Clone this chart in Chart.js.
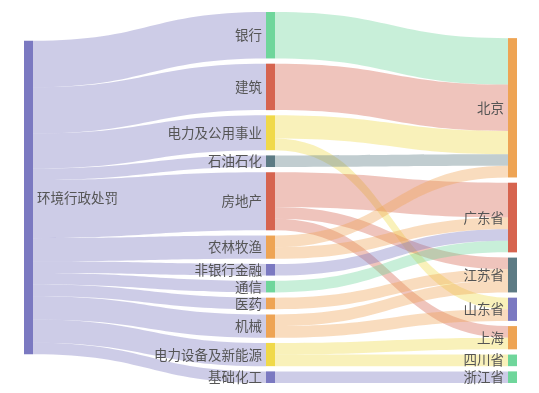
<!DOCTYPE html>
<html>
<head>
<meta charset="utf-8">
<script src="https://cdn.jsdelivr.net/npm/chart.js@4/dist/chart.umd.min.js"></script>
<style>
  html, body { margin: 0; background: #fff; }
</style>
</head>
<body>
<canvas id="sankeyChart" width="539" height="393"></canvas>
<script>
// ── DATA ──
const sourceName = '环境行政处罚';
const industries = ['银行', '建筑', '电力及公用事业', '石油石化', '房地产', '农林牧渔',
  '非银行金融', '通信', '医药', '机械', '电力设备及新能源', '基础化工'];
const provinces = ['北京', '广东省', '江苏省', '山东省', '上海', '四川省', '浙江省'];

const flowFrom = ['银行', '建筑', '电力及公用事业', '电力及公用事业', '石油石化',
  '房地产', '房地产', '房地产', '农林牧渔', '农林牧渔', '非银行金融', '通信',
  '医药', '机械', '机械', '电力设备及新能源', '电力设备及新能源', '基础化工'];
const flowTo = ['北京', '北京', '北京', '山东省', '北京',
  '广东省', '江苏省', '上海', '北京', '广东省', '广东省', '广东省',
  '江苏省', '江苏省', '山东省', '上海', '四川省', '浙江省'];
const flowValue = [4, 4, 2, 1, 1, 3, 1, 1, 1, 1, 1, 1, 1, 1, 1, 1, 1, 1];

// node colours
const sourceColor = '#7b79c1';
const industryColors = ['#6fd69b', '#d6644f', '#f0d94a', '#5d7b84', '#d6644f', '#eea454',
  '#7b79c1', '#6fd69b', '#eea454', '#eea454', '#f0d94a', '#7b79c1'];
const provinceColors = ['#eea454', '#d6644f', '#5d7b84', '#7b79c1', '#eea454', '#6fd69b', '#6fd69b'];

const NODE_GAP = 0.45;   // gap between nodes, in value units
const NODE_W = 9;        // node width, px
const LINK_ALPHA = 0.38;

// ── LAYOUT (value space) ──
const sum = arr => arr.reduce((a, b) => a + b, 0);
const totalOf = (name, side) => sum(flowValue.filter((v, i) => (side === 'from' ? flowFrom[i] : flowTo[i]) === name));

const industryTotals = industries.map(n => totalOf(n, 'from'));
const provinceTotals = provinces.map(n => totalOf(n, 'to'));
const grandTotal = sum(industryTotals);
const yMax = grandTotal + (industries.length - 1) * NODE_GAP;

const nodes = {};
nodes[sourceName] = { col: 0, y0: (yMax - grandTotal) / 2, value: grandTotal, color: sourceColor, labelRight: true };
let acc = 0;
industries.forEach((n, i) => {
  nodes[n] = { col: 1, y0: acc, value: industryTotals[i], color: industryColors[i] };
  acc += industryTotals[i] + NODE_GAP;
});
acc = yMax - (grandTotal + (provinces.length - 1) * NODE_GAP);
provinces.forEach((n, i) => {
  nodes[n] = { col: 2, y0: acc, value: provinceTotals[i], color: provinceColors[i] };
  acc += provinceTotals[i] + NODE_GAP;
});
Object.values(nodes).forEach(n => { n.outAcc = 0; n.inAcc = 0; });

const links = industries.map((n, i) => ({ source: nodes[sourceName], target: nodes[n], value: industryTotals[i] }))
  .concat(flowValue.map((v, i) => ({ source: nodes[flowFrom[i]], target: nodes[flowTo[i]], value: v })));

// stack links on each node, ordered by the opposite node's position
const stack = (key, other, accKey, posKey) => {
  Object.values(nodes).forEach(node => {
    links.filter(l => l[key] === node)
      .sort((a, b) => a[other].y0 - b[other].y0)
      .forEach(l => { l[posKey] = node.y0 + node[accKey]; node[accKey] += l.value; });
  });
};
stack('source', 'target', 'outAcc', 'sy');
stack('target', 'source', 'inAcc', 'ty');

const rgba = (hex, a) => {
  const v = parseInt(hex.slice(1), 16);
  return `rgba(${(v >> 16) & 255},${(v >> 8) & 255},${v & 255},${a})`;
};

// ── SANKEY DRAWING PLUGIN ──
const sankeyPlugin = {
  id: 'sankey',
  afterDatasetsDraw(chart) {
    const { ctx, scales: { x, y } } = chart;
    ctx.save();

    // links
    links.forEach(l => {
      const x0 = x.getPixelForValue(l.source.col) + NODE_W;
      const x1 = x.getPixelForValue(l.target.col);
      const sy0 = y.getPixelForValue(l.sy), sy1 = y.getPixelForValue(l.sy + l.value);
      const ty0 = y.getPixelForValue(l.ty), ty1 = y.getPixelForValue(l.ty + l.value);
      const cx = (x0 + x1) / 2;
      ctx.beginPath();
      ctx.moveTo(x0, sy0);
      ctx.bezierCurveTo(cx, sy0, cx, ty0, x1, ty0);
      ctx.lineTo(x1, ty1);
      ctx.bezierCurveTo(cx, ty1, cx, sy1, x0, sy1);
      ctx.closePath();
      ctx.fillStyle = rgba(l.source.color, LINK_ALPHA);
      ctx.fill();
    });

    // nodes + labels
    ctx.font = '13.5px "Noto Sans CJK SC", sans-serif';
    ctx.textBaseline = 'middle';
    Object.entries(nodes).forEach(([name, n]) => {
      const px = x.getPixelForValue(n.col);
      const top = y.getPixelForValue(n.y0);
      const bottom = y.getPixelForValue(n.y0 + n.value);
      ctx.fillStyle = n.color;
      ctx.fillRect(px, top, NODE_W, bottom - top);

      ctx.fillStyle = '#555';
      const mid = (top + bottom) / 2;
      if (n.labelRight) {
        ctx.textAlign = 'left';
        ctx.fillText(name, px + NODE_W + 4, mid);
      } else {
        ctx.textAlign = 'right';
        ctx.fillText(name, px - 4, mid);
      }
    });
    ctx.restore();
  },
};

window.addEventListener('DOMContentLoaded', () => {
  new Chart(document.getElementById('sankeyChart').getContext('2d'), {
    type: 'scatter',
    data: { datasets: [{ data: [] }] },
    options: {
      responsive: false,
      animation: false,
      layout: { padding: { left: 24, right: 31, top: 12, bottom: 10 } },
      plugins: { legend: { display: false }, tooltip: { enabled: false } },
      scales: {
        x: { type: 'linear', min: 0, max: 2, display: false },
        y: { type: 'linear', min: 0, max: yMax, reverse: true, display: false },
      },
    },
    plugins: [sankeyPlugin],
  });
});
</script>
</body>
</html>
